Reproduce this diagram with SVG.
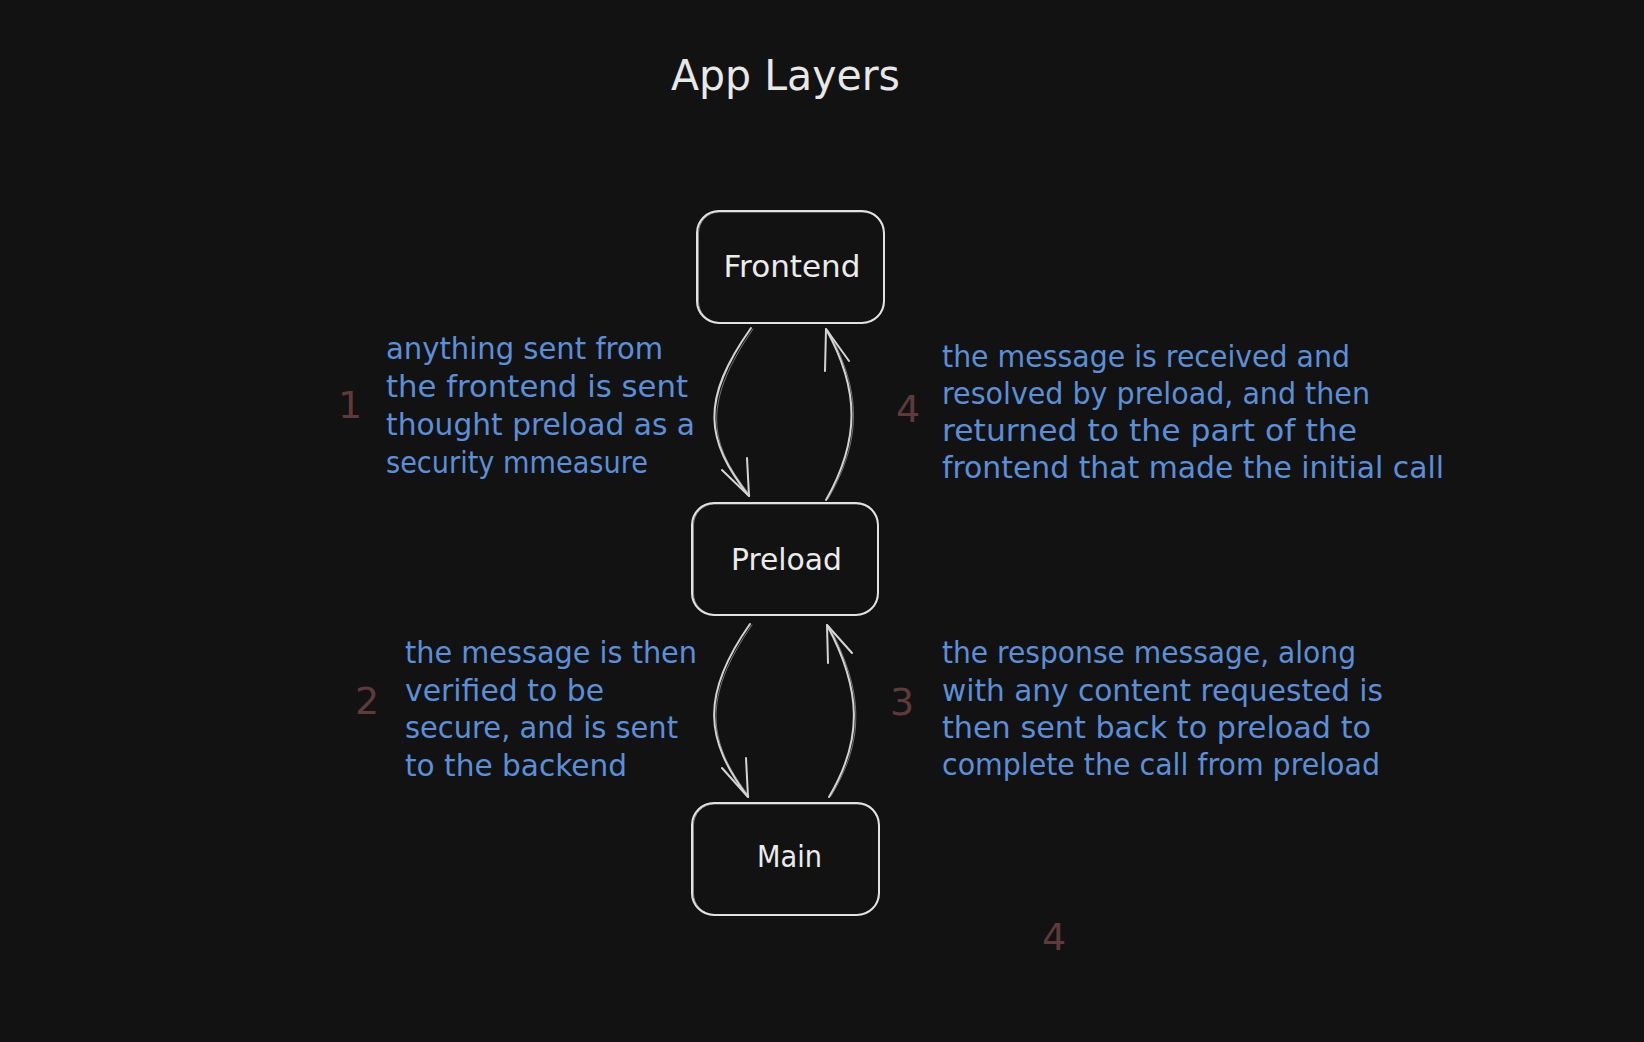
<svg xmlns="http://www.w3.org/2000/svg" width="1644" height="1042" viewBox="0 0 1644 1042">
<defs>
<style>
.bg{fill:#121212}
.box{fill:#121212;stroke:#e2e2e2;stroke-width:2}
.box2{fill:none;stroke:#e2e2e2;stroke-width:1;opacity:.55}
.lbl{font-family:"DejaVu Sans","Liberation Sans",sans-serif;font-size:30px;fill:#ececec;text-anchor:middle}
.title{font-family:"DejaVu Sans","Liberation Sans",sans-serif;font-size:42px;fill:#e8e8e8}
.note{font-family:"DejaVu Sans","Liberation Sans",sans-serif;font-size:30px;fill:#5b8fd8}
.num{font-family:"DejaVu Sans","Liberation Sans",sans-serif;font-size:38px;fill:#5f3a3a;text-anchor:middle}
.arr{fill:none;stroke:#d4d4d4;stroke-width:2;stroke-linecap:round;stroke-linejoin:round}
.arr2{fill:none;stroke:#d4d4d4;stroke-width:1;opacity:.5;stroke-linecap:round}
</style>
</defs>
<rect class="bg" x="0" y="0" width="1644" height="1042"/>
<text class="title" x="671" y="90" textLength="229" lengthAdjust="spacingAndGlyphs">App Layers</text>

<g id="connectors">
  <g id="frontend-to-preload">
    <path class="arr" d="M751,328 C700,400 705,440 749,496"/>
    <path class="arr2" d="M753,329 C703,402 707,442 750,495"/>
    <path class="arr" d="M722,470 L749,496 L747,458"/>
  </g>
  <g id="preload-to-frontend">
    <path class="arr" d="M826,500 C860,440 860,390 826,329"/>
    <path class="arr2" d="M828,499 C862,440 862,392 828,330"/>
    <path class="arr" d="M849,361 L826,329 L825,371"/>
  </g>
  <g id="preload-to-main">
    <path class="arr" d="M750,624 C700,695 705,740 748,797"/>
    <path class="arr2" d="M752,625 C702,697 707,742 749,796"/>
    <path class="arr" d="M722,768 L748,797 L746,758"/>
  </g>
  <g id="main-to-preload">
    <path class="arr" d="M829,797 C863,740 862,690 827,625"/>
    <path class="arr2" d="M831,796 C865,740 864,692 829,626"/>
    <path class="arr" d="M852,653 L827,625 L828,663"/>
  </g>
</g>

<g id="node-frontend">
  <rect class="box" x="697" y="211" width="187" height="112" rx="22"/>
  <rect class="box2" x="698.5" y="212" width="185" height="110.5" rx="21"/>
  <text class="lbl" x="792" y="277" textLength="137" lengthAdjust="spacingAndGlyphs">Frontend</text>
</g>
<g id="node-preload">
  <rect class="box" x="692" y="503" width="186" height="112" rx="22"/>
  <rect class="box2" x="693.5" y="504" width="184" height="110.5" rx="21"/>
  <text class="lbl" x="786.5" y="570" textLength="111" lengthAdjust="spacingAndGlyphs">Preload</text>
</g>
<g id="node-main">
  <rect class="box" x="692" y="803" width="187" height="112" rx="22"/>
  <rect class="box2" x="693.5" y="804" width="185" height="110.5" rx="21"/>
  <text class="lbl" x="789.5" y="867" textLength="65" lengthAdjust="spacingAndGlyphs">Main</text>
</g>

<g id="note-1">
  <text class="num" x="350" y="418">1</text>
  <text class="note" x="386" y="359" textLength="277" lengthAdjust="spacingAndGlyphs">anything sent from</text>
  <text class="note" x="386" y="397" textLength="302" lengthAdjust="spacingAndGlyphs">the frontend is sent</text>
  <text class="note" x="386" y="435" textLength="309" lengthAdjust="spacingAndGlyphs">thought preload as a</text>
  <text class="note" x="386" y="473" textLength="262" lengthAdjust="spacingAndGlyphs">security mmeasure</text>
</g>
<g id="note-2">
  <text class="num" x="367" y="714">2</text>
  <text class="note" x="405" y="663" textLength="292" lengthAdjust="spacingAndGlyphs">the message is then</text>
  <text class="note" x="405" y="701" textLength="199" lengthAdjust="spacingAndGlyphs">verified to be</text>
  <text class="note" x="405" y="738" textLength="273" lengthAdjust="spacingAndGlyphs">secure, and is sent</text>
  <text class="note" x="405" y="776" textLength="222" lengthAdjust="spacingAndGlyphs">to the backend</text>
</g>
<g id="note-4">
  <text class="num" x="908" y="422">4</text>
  <text class="note" x="942" y="367" textLength="408" lengthAdjust="spacingAndGlyphs">the message is received and</text>
  <text class="note" x="942" y="404" textLength="428" lengthAdjust="spacingAndGlyphs">resolved by preload, and then</text>
  <text class="note" x="942" y="441" textLength="415" lengthAdjust="spacingAndGlyphs">returned to the part of the</text>
  <text class="note" x="942" y="478" textLength="502" lengthAdjust="spacingAndGlyphs">frontend that made the initial call</text>
</g>
<g id="note-3">
  <text class="num" x="902" y="715">3</text>
  <text class="note" x="942" y="663" textLength="414" lengthAdjust="spacingAndGlyphs">the response message, along</text>
  <text class="note" x="942" y="701" textLength="441" lengthAdjust="spacingAndGlyphs">with any content requested is</text>
  <text class="note" x="942" y="738" textLength="429" lengthAdjust="spacingAndGlyphs">then sent back to preload to</text>
  <text class="note" x="942" y="775" textLength="438" lengthAdjust="spacingAndGlyphs">complete the call from preload</text>
</g>
<g id="label-4-bottom">
  <text class="num" x="1054" y="950">4</text>
</g>
</svg>
